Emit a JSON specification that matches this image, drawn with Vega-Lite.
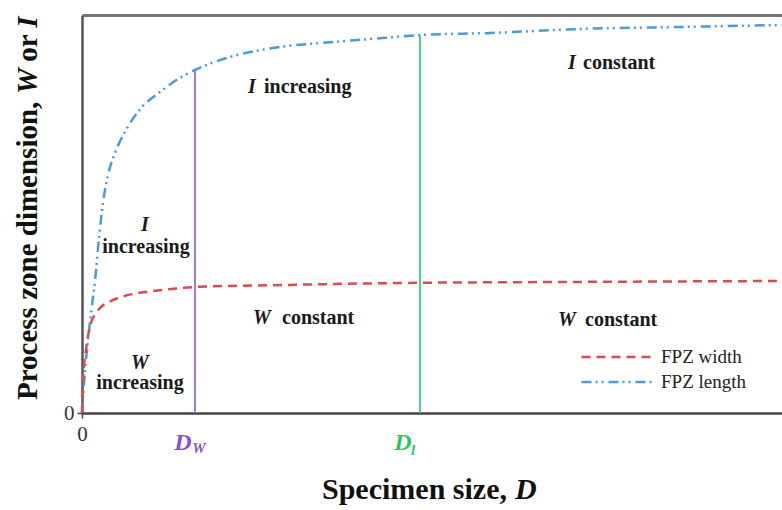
{
  "$schema": "https://vega.github.io/schema/vega-lite/v6.json",
  "width": 700,
  "height": 398,
  "autosize": {"type": "none"},
  "padding": {"left": 82, "top": 15, "right": 0, "bottom": 97},
  "background": "white",
  "config": {"view": {"stroke": null}, "font": "Liberation Serif"},
  "datasets": {
    "curves": [
      {"D": 0, "H": 0, "series": "FPZ length"},
      {"D": 1, "H": 15, "series": "FPZ length"},
      {"D": 3, "H": 42, "series": "FPZ length"},
      {"D": 6, "H": 73, "series": "FPZ length"},
      {"D": 9, "H": 100, "series": "FPZ length"},
      {"D": 13, "H": 132, "series": "FPZ length"},
      {"D": 17, "H": 175, "series": "FPZ length"},
      {"D": 21, "H": 210, "series": "FPZ length"},
      {"D": 26, "H": 238, "series": "FPZ length"},
      {"D": 33, "H": 260, "series": "FPZ length"},
      {"D": 44, "H": 283, "series": "FPZ length"},
      {"D": 59, "H": 305, "series": "FPZ length"},
      {"D": 78, "H": 321, "series": "FPZ length"},
      {"D": 96, "H": 334, "series": "FPZ length"},
      {"D": 113, "H": 343, "series": "FPZ length"},
      {"D": 148, "H": 356, "series": "FPZ length"},
      {"D": 191, "H": 365, "series": "FPZ length"},
      {"D": 251, "H": 371, "series": "FPZ length"},
      {"D": 301, "H": 375, "series": "FPZ length"},
      {"D": 338, "H": 378, "series": "FPZ length"},
      {"D": 408, "H": 380, "series": "FPZ length"},
      {"D": 498, "H": 384, "series": "FPZ length"},
      {"D": 598, "H": 386, "series": "FPZ length"},
      {"D": 700, "H": 388, "series": "FPZ length"},
      {"D": 0, "H": 0, "series": "FPZ width"},
      {"D": 1, "H": 33, "series": "FPZ width"},
      {"D": 4, "H": 63, "series": "FPZ width"},
      {"D": 9, "H": 90, "series": "FPZ width"},
      {"D": 14, "H": 100, "series": "FPZ width"},
      {"D": 19, "H": 106, "series": "FPZ width"},
      {"D": 27, "H": 111, "series": "FPZ width"},
      {"D": 36, "H": 115, "series": "FPZ width"},
      {"D": 51, "H": 119, "series": "FPZ width"},
      {"D": 63, "H": 121, "series": "FPZ width"},
      {"D": 89, "H": 124, "series": "FPZ width"},
      {"D": 113, "H": 126, "series": "FPZ width"},
      {"D": 200, "H": 128, "series": "FPZ width"},
      {"D": 318, "H": 130, "series": "FPZ width"},
      {"D": 478, "H": 131, "series": "FPZ width"},
      {"D": 700, "H": 132, "series": "FPZ width"}
    ],
    "limits": [
      {"D": 113, "H": 0, "H2": 343, "key": "DW"},
      {"D": 338, "H": 0, "H2": 378, "key": "Dl"}
    ],
    "notes": [
      {"D": 170, "H": 326, "text": "I", "role": "regionVar"},
      {"D": 490, "H": 350, "text": "I", "role": "regionVar"},
      {"D": 63, "H": 188, "text": "I", "role": "regionVar"},
      {"D": 58, "H": 50, "text": "W", "role": "regionVar"},
      {"D": 180, "H": 95, "text": "W", "role": "regionVar"},
      {"D": 485, "H": 93, "text": "W", "role": "regionVar"},
      {"D": 182, "H": 326, "text": "increasing", "role": "regionWord"},
      {"D": 501, "H": 350, "text": "constant", "role": "regionWord"},
      {"D": 200, "H": 95, "text": "constant", "role": "regionWord"},
      {"D": 503, "H": 93, "text": "constant", "role": "regionWord"},
      {"D": 64, "H": 166, "text": "increasing", "role": "regionWordC"},
      {"D": 58, "H": 30, "text": "increasing", "role": "regionWordC"},
      {"D": -54, "H": 13, "text": "Process zone dimension,", "role": "yTitle"},
      {"D": -54, "H": 365, "text": "or", "role": "yTitleC"},
      {"D": -54, "H": 332, "text": "W", "role": "yTitleVar"},
      {"D": -54, "H": 391, "text": "I", "role": "yTitleVar"},
      {"D": 240, "H": -77, "text": "Specimen size,", "role": "xTitle"},
      {"D": 433, "H": -77, "text": "D", "role": "xTitleVar"},
      {"D": 101, "H": -30, "text": "D", "role": "dW"},
      {"D": 117, "H": -35, "text": "W", "role": "dWsub"},
      {"D": 321, "H": -30, "text": "D", "role": "dl"},
      {"D": 331, "H": -37, "text": "l", "role": "dlsub"}
    ]
  },
  "resolve": {"axis": {"x": "independent", "y": "independent"}},
  "layer": [
    {
      "data": {"name": "limits"},
      "transform": [{"filter": "datum.key == 'DW'"}],
      "mark": {"type": "rule", "color": "#a47ad8", "strokeWidth": 2},
      "encoding": {
        "x": {"field": "D", "type": "quantitative", "scale": {"domain": [0, 700], "nice": false, "zero": false}, "axis": null},
        "y": {"field": "H", "type": "quantitative", "scale": {"domain": [0, 398], "nice": false, "zero": false}, "axis": null},
        "y2": {"field": "H2"}
      }
    },
    {
      "data": {"name": "limits"},
      "transform": [{"filter": "datum.key == 'Dl'"}],
      "mark": {"type": "rule", "color": "#52d083", "strokeWidth": 2},
      "encoding": {
        "x": {"field": "D", "type": "quantitative", "scale": {"domain": [0, 700], "nice": false, "zero": false}, "axis": null},
        "y": {"field": "H", "type": "quantitative", "scale": {"domain": [0, 398], "nice": false, "zero": false}, "axis": null},
        "y2": {"field": "H2"}
      }
    },
    {
      "data": {"name": "curves"},
      "mark": {"type": "line", "strokeWidth": 2.5, "interpolate": "monotone"},
      "encoding": {
        "x": {"field": "D", "type": "quantitative", "scale": {"domain": [0, 700], "nice": false, "zero": false},
          "axis": {"values": [0], "title": null, "grid": false, "domainColor": "#444", "domainWidth": 2.5, "tickColor": "#444", "tickSize": 5, "tickWidth": 1.5, "labelFont": "Liberation Serif", "labelFontSize": 21, "labelColor": "#333", "labelPadding": 5, "labelFlush": false}},
        "y": {"field": "H", "type": "quantitative", "scale": {"domain": [0, 398], "nice": false, "zero": false},
          "axis": {"values": [0], "title": null, "grid": false, "domainColor": "#555", "domainWidth": 2.5, "tickColor": "#444", "tickSize": 5, "tickWidth": 1.5, "labelFont": "Liberation Serif", "labelFontSize": 21, "labelColor": "#333", "labelPadding": 3, "labelFlush": false}},
        "color": {"field": "series", "type": "nominal",
          "scale": {"domain": ["FPZ width", "FPZ length"], "range": ["#dc4a4e", "#4b9ad9"]},
          "legend": {"title": null, "orient": "none", "legendX": 498, "legendY": 332, "padding": 0, "symbolType": "stroke", "symbolSize": 4900, "symbolStrokeWidth": 2.5, "clipHeight": 20, "rowPadding": 5, "labelOffset": 8, "labelFont": "Liberation Serif", "labelFontSize": 19, "labelColor": "#222"}},
        "strokeDash": {"field": "series", "type": "nominal",
          "scale": {"domain": ["FPZ width", "FPZ length"], "range": [[9, 6], [10, 4, 2, 4, 2, 5]]},
          "legend": {"title": null, "orient": "none", "legendX": 498, "legendY": 332, "padding": 0, "symbolType": "stroke", "symbolSize": 4900, "symbolStrokeWidth": 2.5, "clipHeight": 20, "rowPadding": 5, "labelOffset": 8, "labelFont": "Liberation Serif", "labelFontSize": 19, "labelColor": "#222"}}
      }
    },
    {
      "data": {"name": "notes"},
      "transform": [{"filter": "datum.role == 'regionVar'"}],
      "mark": {"type": "text", "font": "Liberation Serif", "fontSize": 20, "fontWeight": "bold", "fontStyle": "italic", "align": "center", "baseline": "middle", "color": "#1a1a1a"},
      "encoding": {
        "x": {"field": "D", "type": "quantitative", "scale": {"domain": [0, 700], "nice": false, "zero": false},
          "axis": {"orient": "top", "labels": false, "ticks": false, "title": null, "grid": false, "domainColor": "#777", "domainWidth": 3}},
        "y": {"field": "H", "type": "quantitative", "scale": {"domain": [0, 398], "nice": false, "zero": false}, "axis": null},
        "text": {"field": "text"}
      }
    },
    {
      "data": {"name": "notes"},
      "transform": [{"filter": "datum.role == 'regionWord'"}],
      "mark": {"type": "text", "font": "Liberation Serif", "fontSize": 20, "fontWeight": "bold", "align": "left", "baseline": "middle", "color": "#1a1a1a"},
      "encoding": {
        "x": {"field": "D", "type": "quantitative", "scale": {"domain": [0, 700], "nice": false, "zero": false}, "axis": null},
        "y": {"field": "H", "type": "quantitative", "scale": {"domain": [0, 398], "nice": false, "zero": false}, "axis": null},
        "text": {"field": "text"}
      }
    },
    {
      "data": {"name": "notes"},
      "transform": [{"filter": "datum.role == 'regionWordC'"}],
      "mark": {"type": "text", "font": "Liberation Serif", "fontSize": 20, "fontWeight": "bold", "align": "center", "baseline": "middle", "color": "#1a1a1a"},
      "encoding": {
        "x": {"field": "D", "type": "quantitative", "scale": {"domain": [0, 700], "nice": false, "zero": false}, "axis": null},
        "y": {"field": "H", "type": "quantitative", "scale": {"domain": [0, 398], "nice": false, "zero": false}, "axis": null},
        "text": {"field": "text"}
      }
    },
    {
      "data": {"name": "notes"},
      "transform": [{"filter": "datum.role == 'yTitle'"}],
      "mark": {"type": "text", "font": "Liberation Serif", "fontSize": 29, "fontWeight": "bold", "align": "left", "baseline": "middle", "angle": 270, "color": "#111"},
      "encoding": {
        "x": {"field": "D", "type": "quantitative", "scale": {"domain": [0, 700], "nice": false, "zero": false}, "axis": null},
        "y": {"field": "H", "type": "quantitative", "scale": {"domain": [0, 398], "nice": false, "zero": false}, "axis": null},
        "text": {"field": "text"}
      }
    },
    {
      "data": {"name": "notes"},
      "transform": [{"filter": "datum.role == 'yTitleC'"}],
      "mark": {"type": "text", "font": "Liberation Serif", "fontSize": 29, "fontWeight": "bold", "align": "center", "baseline": "middle", "angle": 270, "color": "#111"},
      "encoding": {
        "x": {"field": "D", "type": "quantitative", "scale": {"domain": [0, 700], "nice": false, "zero": false}, "axis": null},
        "y": {"field": "H", "type": "quantitative", "scale": {"domain": [0, 398], "nice": false, "zero": false}, "axis": null},
        "text": {"field": "text"}
      }
    },
    {
      "data": {"name": "notes"},
      "transform": [{"filter": "datum.role == 'yTitleVar'"}],
      "mark": {"type": "text", "font": "Liberation Serif", "fontSize": 29, "fontWeight": "bold", "fontStyle": "italic", "align": "center", "baseline": "middle", "angle": 270, "color": "#111"},
      "encoding": {
        "x": {"field": "D", "type": "quantitative", "scale": {"domain": [0, 700], "nice": false, "zero": false}, "axis": null},
        "y": {"field": "H", "type": "quantitative", "scale": {"domain": [0, 398], "nice": false, "zero": false}, "axis": null},
        "text": {"field": "text"}
      }
    },
    {
      "data": {"name": "notes"},
      "transform": [{"filter": "datum.role == 'xTitle'"}],
      "mark": {"type": "text", "font": "Liberation Serif", "fontSize": 30, "fontWeight": "bold", "align": "left", "baseline": "middle", "color": "#111"},
      "encoding": {
        "x": {"field": "D", "type": "quantitative", "scale": {"domain": [0, 700], "nice": false, "zero": false}, "axis": null},
        "y": {"field": "H", "type": "quantitative", "scale": {"domain": [0, 398], "nice": false, "zero": false}, "axis": null},
        "text": {"field": "text"}
      }
    },
    {
      "data": {"name": "notes"},
      "transform": [{"filter": "datum.role == 'xTitleVar'"}],
      "mark": {"type": "text", "font": "Liberation Serif", "fontSize": 30, "fontWeight": "bold", "fontStyle": "italic", "align": "left", "baseline": "middle", "color": "#111"},
      "encoding": {
        "x": {"field": "D", "type": "quantitative", "scale": {"domain": [0, 700], "nice": false, "zero": false}, "axis": null},
        "y": {"field": "H", "type": "quantitative", "scale": {"domain": [0, 398], "nice": false, "zero": false}, "axis": null},
        "text": {"field": "text"}
      }
    },
    {
      "data": {"name": "notes"},
      "transform": [{"filter": "datum.role == 'dW'"}],
      "mark": {"type": "text", "font": "Liberation Serif", "fontSize": 24, "fontWeight": "bold", "fontStyle": "italic", "align": "center", "baseline": "middle", "color": "#8a4fd2"},
      "encoding": {
        "x": {"field": "D", "type": "quantitative", "scale": {"domain": [0, 700], "nice": false, "zero": false}, "axis": null},
        "y": {"field": "H", "type": "quantitative", "scale": {"domain": [0, 398], "nice": false, "zero": false}, "axis": null},
        "text": {"field": "text"}
      }
    },
    {
      "data": {"name": "notes"},
      "transform": [{"filter": "datum.role == 'dWsub'"}],
      "mark": {"type": "text", "font": "Liberation Serif", "fontSize": 15, "fontWeight": "bold", "fontStyle": "italic", "align": "center", "baseline": "middle", "color": "#8a4fd2"},
      "encoding": {
        "x": {"field": "D", "type": "quantitative", "scale": {"domain": [0, 700], "nice": false, "zero": false}, "axis": null},
        "y": {"field": "H", "type": "quantitative", "scale": {"domain": [0, 398], "nice": false, "zero": false}, "axis": null},
        "text": {"field": "text"}
      }
    },
    {
      "data": {"name": "notes"},
      "transform": [{"filter": "datum.role == 'dl'"}],
      "mark": {"type": "text", "font": "Liberation Serif", "fontSize": 24, "fontWeight": "bold", "fontStyle": "italic", "align": "center", "baseline": "middle", "color": "#2fc55c"},
      "encoding": {
        "x": {"field": "D", "type": "quantitative", "scale": {"domain": [0, 700], "nice": false, "zero": false}, "axis": null},
        "y": {"field": "H", "type": "quantitative", "scale": {"domain": [0, 398], "nice": false, "zero": false}, "axis": null},
        "text": {"field": "text"}
      }
    },
    {
      "data": {"name": "notes"},
      "transform": [{"filter": "datum.role == 'dlsub'"}],
      "mark": {"type": "text", "font": "Liberation Serif", "fontSize": 15, "fontWeight": "bold", "fontStyle": "italic", "align": "center", "baseline": "middle", "color": "#2fc55c"},
      "encoding": {
        "x": {"field": "D", "type": "quantitative", "scale": {"domain": [0, 700], "nice": false, "zero": false}, "axis": null},
        "y": {"field": "H", "type": "quantitative", "scale": {"domain": [0, 398], "nice": false, "zero": false}, "axis": null},
        "text": {"field": "text"}
      }
    }
  ]
}
